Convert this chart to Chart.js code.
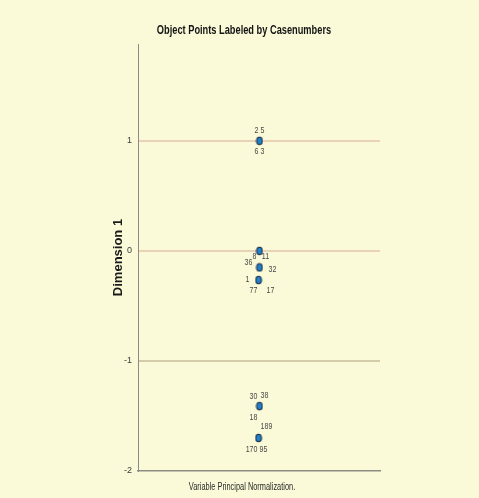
<!DOCTYPE html>
<html>
<head>
<meta charset="utf-8">
<script src="https://cdn.jsdelivr.net/npm/chart.js@4"></script>
<style>
  html, body { margin: 0; padding: 0; background: #fafad8; }
  #wrap { width: 479px; height: 498px; }
</style>
</head>
<body>
<div id="wrap"><canvas id="c" width="479" height="498"></canvas></div>
<script>
// ---- data ----
const dimension1 = [1.0, 0.0, -0.15, -0.265, -1.41, -1.70];
const dimension2 = [0.502, 0.502, 0.502, 0.498, 0.502, 0.498];
const caseLabels = [
  ["2 5", "6 3"],
  ["8", "11", "36"],
  ["32"],
  ["1", "77", "17"],
  ["30", "38", "18", "189"],
  ["170", "95"]
];
const yTicks = [-2, -1, 0, 1];
const chartTitle = 'Object Points Labeled by Casenumbers';
const xTitle = 'Variable Principal Normalization.';
const yTitle = 'Dimension 1';

// label placement (pixels relative to point)
const labelOffsets = [
  [[0, -10], [0, 11]],
  [[-5, 5], [6, 5], [-11, 11]],
  [[13, 2]],
  [[-11, -1], [-5, 10], [12, 10]],
  [[-6, -10], [5, -11], [-6, 11], [7, 20]],
  [[-7, 11], [5, 11]]
];

const FONT = "'Liberation Sans', Arial, sans-serif";
const SQUEEZE = 0.74;

function narrowText(ctx, txt, x, y, font, color) {
  ctx.save();
  ctx.font = font;
  ctx.fillStyle = color;
  ctx.textAlign = 'center';
  ctx.textBaseline = 'middle';
  ctx.translate(x, y);
  ctx.scale(SQUEEZE, 1);
  ctx.fillText(txt, 0, 0);
  ctx.restore();
}

// elliptical marker
const marker = document.createElement('canvas');
marker.width = 8; marker.height = 10;
(function () {
  const m = marker.getContext('2d');
  m.beginPath();
  m.ellipse(4, 5, 2.8, 3.8, 0, 0, Math.PI * 2);
  m.fillStyle = '#1f80cc';
  m.fill();
  m.lineWidth = 1.1;
  m.strokeStyle = '#1a2a40';
  m.stroke();
})();

const textPlugin = {
  id: 'narrowTexts',
  afterDatasetsDraw(chart) {
    const ctx = chart.ctx;
    const meta = chart.getDatasetMeta(0);
    meta.data.forEach((pt, i) => {
      caseLabels[i].forEach((txt, j) => {
        const o = labelOffsets[i][j];
        narrowText(ctx, txt, pt.x + o[0], pt.y + o[1], "9.5px " + FONT, '#484848');
      });
    });
  },
  afterDraw(chart) {
    const ctx = chart.ctx;
    const a = chart.chartArea;
    narrowText(ctx, chartTitle, 244, 31, "bold 12.5px " + FONT, '#141414');
    narrowText(ctx, xTitle, (a.left + a.right) / 2 - 17, 487, "10px " + FONT, '#2a2a2a');
  }
};

const bgPlugin = {
  id: 'bg',
  beforeDraw(chart) {
    const ctx = chart.ctx;
    ctx.save();
    ctx.fillStyle = '#fafad8';
    ctx.fillRect(0, 0, chart.width, chart.height);
    ctx.restore();
  }
};

const gridColors = { '1': '#ead2b4', '0': '#ead2b4', '-1': '#d4cba8' };

new Chart(document.getElementById('c'), {
  type: 'scatter',
  data: {
    datasets: [{
      data: dimension1.map((v, i) => ({ x: dimension2[i], y: v })),
      pointStyle: marker,
      pointRadius: 4,
      pointHoverRadius: 4
    }]
  },
  options: {
    responsive: false,
    animation: false,
    events: [],
    layout: { padding: { left: 100, right: 99, top: 44, bottom: 0 } },
    plugins: {
      legend: { display: false },
      tooltip: { enabled: false },
      title: { display: false }
    },
    scales: {
      x: {
        type: 'linear',
        min: 0,
        max: 1,
        grid: { display: false, drawTicks: false },
        border: { display: true, color: '#8c8c84', width: 1.5 },
        ticks: { display: false },
        title: { display: false },
        afterFit(s) { s.height = 27; }
      },
      y: {
        type: 'linear',
        min: -2,
        max: 1.88,
        afterBuildTicks(s) { s.ticks = yTicks.map(v => ({ value: v })); },
        grid: {
          drawTicks: false,
          lineWidth: 2,
          color: ctx => (ctx.tick && gridColors[String(ctx.tick.value)]) || 'rgba(0,0,0,0)'
        },
        border: { display: true, color: '#8c8c84', width: 1 },
        ticks: {
          color: '#3a3a3a',
          font: { family: FONT, size: 9 },
          padding: 6
        },
        title: {
          display: true,
          text: yTitle,
          color: '#1a1a1a',
          font: { family: FONT, size: 13, weight: 'bold' },
          padding: { top: 11, bottom: 0 }
        },
        afterFit(s) { s.width = 38; }
      }
    }
  },
  plugins: [bgPlugin, textPlugin]
});
</script>
</body>
</html>
